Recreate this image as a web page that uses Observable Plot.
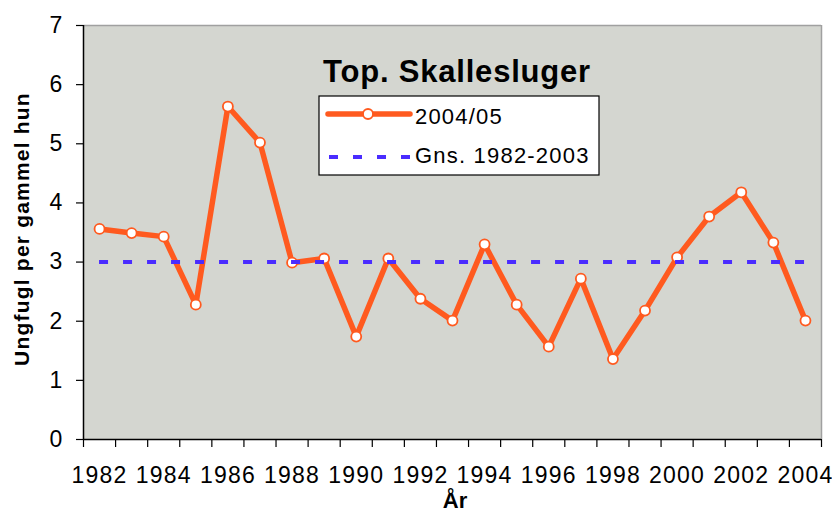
<!DOCTYPE html>
<html>
<head>
<meta charset="utf-8">
<script src="https://cdn.jsdelivr.net/npm/d3@7"></script>
<script src="https://cdn.jsdelivr.net/npm/@observablehq/plot@0.6"></script>
<style>
  html, body { margin: 0; padding: 0; background: #fff; }
  #chart svg { display: block; }
</style>
</head>
<body>
<div id="chart"></div>
<script>
const years = [1982,1983,1984,1985,1986,1987,1988,1989,1990,1991,1992,1993,1994,1995,1996,1997,1998,1999,2000,2001,2002,2003,2004];
const values = [3.56,3.49,3.43,2.28,5.63,5.02,2.99,3.06,1.74,3.06,2.38,2.01,3.30,2.28,1.57,2.72,1.36,2.18,3.08,3.77,4.18,3.33,2.01];
const average = 3.0;
const yTicks = [0,1,2,3,4,5,6,7];
const xLabels = [1982,1984,1986,1988,1990,1992,1994,1996,1998,2000,2002,2004];
const seriesName = "2004/05";
const avgName = "Gns. 1982-2003";
const title = "Top. Skallesluger";
const yTitle = "Ungfugl per gammel hun";
const xTitle = "År";

const orange = "#ff5a1f";
const blue = "#4a2cff";
const data = years.map((y, i) => ({year: y, value: values[i]}));
const bandEdges = d3.range(years[0] - 0.5, years[years.length - 1] + 1, 1);
const font = "'Liberation Sans', Arial, sans-serif";

const W = 832, H = 513;
const plot = Plot.plot({
  width: W, height: H,
  marginLeft: 83, marginRight: 11, marginTop: 25, marginBottom: 74,
  style: {fontFamily: font, background: "#fff", color: "#000"},
  x: {domain: [years[0] - 0.5, years[years.length - 1] + 0.5]},
  y: {domain: [0, 7]},
  marks: [
    Plot.frame({fill: "#d4d6d0", stroke: null}),
    Plot.ruleY([7], {stroke: "#a0a0a0", strokeWidth: 1.5}),
    Plot.ruleX([years[years.length - 1] + 0.5], {stroke: "#a0a0a0", strokeWidth: 1.5}),
    Plot.axisX({ticks: bandEdges, tickSize: 8, tickFormat: () => "", strokeWidth: 1.2, label: null}),
    Plot.axisX({ticks: xLabels, tickSize: 0, tickPadding: 27, tickFormat: d => String(d), fontSize: 23, label: null}),
    Plot.axisY({ticks: yTicks, tickSize: 7, tickPadding: 13, tickFormat: d => String(d), fontSize: 23, label: null, strokeWidth: 1.2}),
    Plot.ruleX([years[0] - 0.5], {stroke: "#000", strokeWidth: 1.5}),
    Plot.ruleY([0], {stroke: "#000", strokeWidth: 1.5}),
    Plot.line(data, {x: "year", y: "value", stroke: orange, strokeWidth: 5.5}),
    Plot.dot(data, {x: "year", y: "value", r: 5, fill: "#fff", stroke: orange, strokeWidth: 1.8}),
    Plot.ruleY([average], {x1: years[0], x2: years[years.length - 1], stroke: blue, strokeWidth: 4, strokeDasharray: "9,15"})
  ]
});

const svg = d3.select(plot);
// widen the axis tick labels slightly (all text present so far belongs to the axes)
svg.selectAll("text").style("letter-spacing", "1.2px");
// Title
svg.append("text").attr("x", 457).attr("y", 82).attr("text-anchor", "middle")
  .attr("font-family", font).attr("font-weight", "bold").attr("font-size", 31)
  .style("letter-spacing", "0.8px").attr("fill", "#000").text(title);
// Legend
const lg = svg.append("g");
lg.append("rect").attr("x", 319).attr("y", 96).attr("width", 280).attr("height", 79)
  .attr("fill", "#fff").attr("stroke", "#000").attr("stroke-width", 1.2);
lg.append("line").attr("x1", 328).attr("x2", 410).attr("y1", 114).attr("y2", 114)
  .attr("stroke", orange).attr("stroke-width", 5.5).attr("stroke-linecap", "round");
lg.append("circle").attr("cx", 368).attr("cy", 114).attr("r", 5)
  .attr("fill", "#fff").attr("stroke", orange).attr("stroke-width", 1.8);
lg.append("line").attr("x1", 329).attr("x2", 410).attr("y1", 157).attr("y2", 157)
  .attr("stroke", blue).attr("stroke-width", 4).attr("stroke-dasharray", "9,15");
lg.append("text").attr("x", 415).attr("y", 124).attr("text-anchor", "start").attr("font-family", font).attr("font-size", 22)
  .style("letter-spacing", "1.2px").attr("fill", "#000").text(seriesName);
lg.append("text").attr("x", 415).attr("y", 163).attr("text-anchor", "start").attr("font-family", font).attr("font-size", 22)
  .style("letter-spacing", "1.2px").attr("fill", "#000").text(avgName);
// Axis titles
svg.append("text").attr("transform", "translate(29,229) rotate(-90)").attr("text-anchor", "middle")
  .attr("font-family", font).attr("font-weight", "bold").attr("font-size", 21)
  .style("letter-spacing", "1.2px").attr("fill", "#000").text(yTitle);
svg.append("text").attr("x", 455).attr("y", 508).attr("text-anchor", "middle")
  .attr("font-family", font).attr("font-weight", "bold").attr("font-size", 22)
  .attr("fill", "#000").text(xTitle);

document.getElementById("chart").appendChild(plot);
</script>
</body>
</html>
